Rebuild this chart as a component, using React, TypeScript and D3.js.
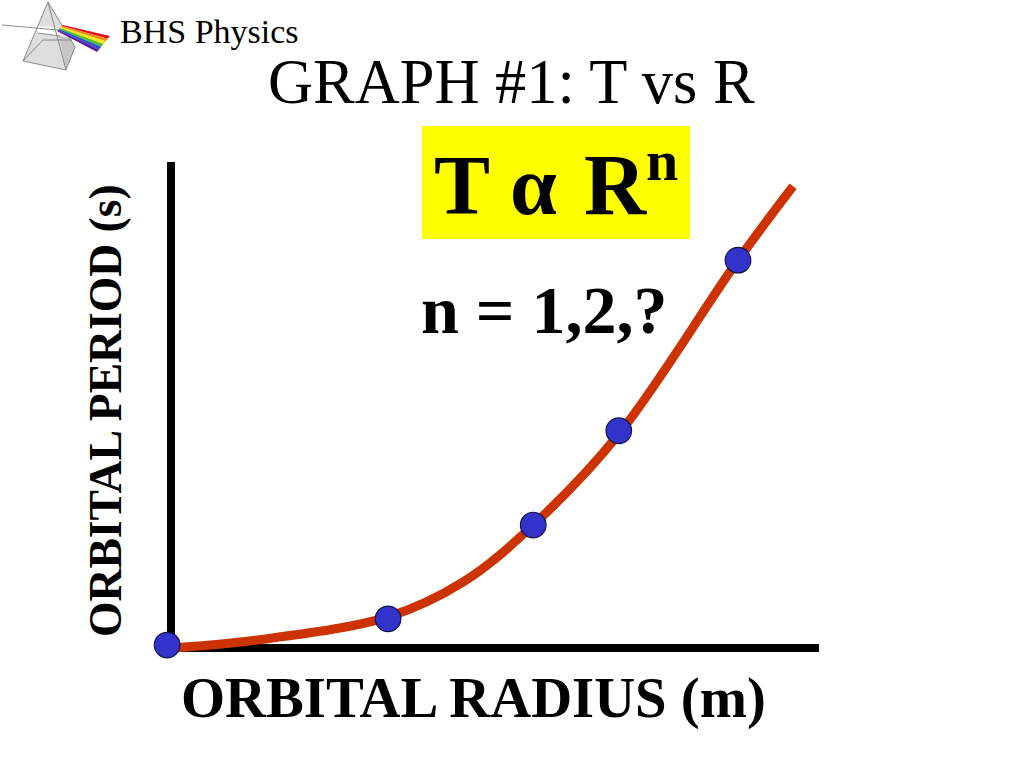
import React from "react";
import * as d3 from "d3";

const pointX = [-0.6, 33.5, 55.9, 69.1, 87.5];
const pointY = [0.6, 6.0, 25.3, 44.7, 79.8];
const curveX = [0, 13, 33.5, 45.1, 55.9, 69.1, 87.5, 96];
const curveY = [0, 1.6, 6.4, 13.6, 25.3, 44.0, 79.8, 95];
const rainbow = ["#e8101c", "#f58a10", "#f7e914", "#4fc02a", "#2a4fd0", "#5a1ea0"];

const x = d3.scaleLinear().domain([0, 100]).range([171, 819]);
const y = d3.scaleLinear().domain([0, 100]).range([648, 162]);
const curve = d3
  .line<number>()
  .x((d) => x(d))
  .y((_, i) => y(curveY[i]))
  .curve(d3.curveCatmullRom.alpha(0.5));

const serif = "'Liberation Serif', serif";

function Prism() {
  const n = rainbow.length;
  return (
    <g>
      <polygon points="48,2 23,61 66,70 75,47" fill="#dedede" />
      <polygon points="58,32 66,70 75,47 62,26" fill="#c6c6c6" />
      <polygon points="36,26 62,28 60,36 38,33" fill="#ffffff" />
      <polygon points="62,26 75,38 60,36" fill="#ececec" />
      <g fill="none" stroke="#808080" strokeWidth={0.9}>
        <polygon points="48,2 23,61 66,70" />
        <line x1="48" y1="2" x2="75" y2="47" />
        <line x1="66" y1="70" x2="75" y2="47" />
        <line x1="43" y1="40" x2="23" y2="61" />
        <line x1="43" y1="40" x2="72" y2="40" />
        <line x1="2" y1="25" x2="58" y2="30" />
        <line x1="38" y1="33" x2="60" y2="36" />
      </g>
      {rainbow.map((c, i) => {
        const a = i / n;
        const b = (i + 1) / n;
        const l = (t: number) => `${63 - 6 * t},${25 + 6 * t}`;
        const r = (t: number) => `${110 - 13 * t},${36 + 16 * t}`;
        return <polygon key={c} points={`${l(a)} ${r(a)} ${r(b)} ${l(b)}`} fill={c} />;
      })}
    </g>
  );
}

export default function App() {
  return (
    <svg
      width={1024}
      height={768}
      style={{ position: "absolute", left: 0, top: 0, background: "#fff" }}
      fontFamily={serif}
      fill="#000"
    >
      <Prism />
      <text x={120} y={43} fontSize={34}>BHS Physics</text>
      <text x={268} y={103} fontSize={62.4}>GRAPH #1: T vs R</text>

      <rect x={422} y={126} width={268} height={113} fill="#ffff00" />
      <text x={434} y={214} fontSize={84} fontWeight="bold">T</text>
      <text x={510} y={214} fontSize={84} fontWeight="bold">α</text>
      <text x={584} y={214} fontSize={86} fontWeight="bold">R</text>
      <text x={646} y={180} fontSize={58} fontWeight="bold">n</text>
      <text x={421} y={333} fontSize={68} fontWeight="bold">n = 1,2,?</text>

      <line x1={x(0)} y1={y(0) + 4} x2={x(0)} y2={y(100)} stroke="#000" strokeWidth={8} />
      <line x1={x(0) - 4} y1={y(0)} x2={x(100)} y2={y(0)} stroke="#000" strokeWidth={8} />
      <path d={curve(curveX) ?? ""} fill="none" stroke="#cc3300" strokeWidth={9} />
      {pointX.map((d, i) => (
        <circle key={d} cx={x(d)} cy={y(pointY[i])} r={12.8} fill="#3333cc" stroke="#14144a" strokeWidth={1.2} />
      ))}

      <text x={181} y={717} fontSize={56.7} fontWeight="bold">ORBITAL RADIUS (m)</text>
      <text transform="translate(121,637) rotate(-90)" fontSize={45.6} fontWeight="bold">ORBITAL PERIOD (s)</text>
    </svg>
  );
}
